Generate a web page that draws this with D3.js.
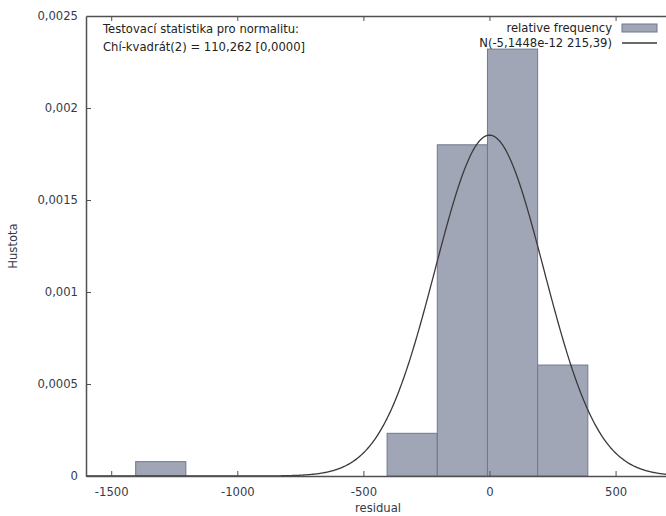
<!DOCTYPE html>
<html><head><meta charset="utf-8">
<script src="https://cdn.jsdelivr.net/npm/d3@7"></script>
<style>body{margin:0;background:#fff}svg{display:block}text{font-family:"DejaVu Sans",Verdana,sans-serif}</style>
</head><body><svg id="c" width="666" height="516"></svg>
<script>
// Data
const binStarts = [-1403, -406, -207, -8, 191];
const binEnds   = [-1204, -207, -8, 191, 390];
const density   = [0.000078, 0.000232, 0.0018, 0.00232, 0.000603];
const normMean = -5.1448e-12, normSd = 215.39;
const xTicks = [-1500, -1000, -500, 0, 500];
const xTickLabels = ["-1500", "-1000", "-500", "0", "500"];
const yTicks = [0, 0.0005, 0.001, 0.0015, 0.002, 0.0025];
const yTickLabels = ["0", "0,0005", "0,001", "0,0015", "0,002", "0,0025"];
const legendLabels = ["relative frequency", "N(-5,1448e-12 215,39)"];
const statLines = ["Testovací statistika pro normalitu:", "Chí-kvadrát(2) = 110,262 [0,0000]"];

const svg = d3.select("#c");
const L = 86, R = 666, T = 16, B = 476;
const x = d3.scaleLinear().domain([-1600, 700]).range([L, R]);
const y = d3.scaleLinear().domain([0, 0.0025]).range([B, T]);
const axisCol = "#505050", labCol = "#333a4a";
const fs = "11.6px";

// bars
svg.append("g").selectAll("rect").data(density).join("rect")
  .attr("x", (d,i) => x(binStarts[i]))
  .attr("width", (d,i) => x(binEnds[i]) - x(binStarts[i]))
  .attr("y", d => y(d)).attr("height", d => B - y(d))
  .attr("fill", "#a0a6b5").attr("stroke", "#6f7891").attr("stroke-width", 1);

// normal curve
const xs = d3.range(-1600, 701, 4);
const pdf = v => Math.exp(-0.5 * ((v - normMean) / normSd) ** 2) / (normSd * Math.sqrt(2 * Math.PI));
svg.append("path").datum(xs)
  .attr("d", d3.line().x(d => x(d)).y(d => y(pdf(d))))
  .attr("fill", "none").attr("stroke", "#3a3a3a").attr("stroke-width", 1.3);

// axes
const gBottom = svg.append("g").attr("transform", `translate(0,${B})`)
  .call(d3.axisBottom(x).tickValues(xTicks).tickSizeInner(-5).tickSizeOuter(0).tickPadding(12)
    .tickFormat((d,i) => xTickLabels[i]));
const gTop = svg.append("g").attr("transform", `translate(0,${T})`)
  .call(d3.axisTop(x).tickValues(xTicks).tickSizeInner(-5).tickSizeOuter(0).tickFormat(""));
const gLeft = svg.append("g").attr("transform", `translate(${L},0)`)
  .call(d3.axisLeft(y).tickValues(yTicks).tickSizeInner(-5).tickSizeOuter(0).tickPadding(8)
    .tickFormat((d,i) => yTickLabels[i]));
[gBottom, gTop, gLeft].forEach(g => {
  g.select(".domain").attr("stroke", axisCol).attr("stroke-width", 1.5);
  g.selectAll(".tick line").attr("stroke", axisCol).attr("stroke-width", 1);
  g.selectAll(".tick text").attr("fill", labCol).style("font-size", fs);
});
gLeft.selectAll(".tick").filter(d => d === 0.0025).select("line").remove();

// axis titles
svg.append("text").attr("x", 378).attr("y", 512).attr("text-anchor", "middle")
  .attr("fill", labCol).style("font-size", fs).text("residual");
svg.append("text").attr("transform", "translate(17,246) rotate(-90)").attr("text-anchor", "middle")
  .attr("fill", labCol).style("font-size", fs).text("Hustota");

// stat text
svg.append("g").selectAll("text").data(statLines).join("text")
  .attr("x", 103).attr("y", (d,i) => 33 + i * 18)
  .attr("fill", "#222").style("font-size", fs).text(d => d);

// legend
const lg = svg.append("g");
lg.selectAll("text").data(legendLabels).join("text")
  .attr("x", 612).attr("y", (d,i) => 32 + i * 15).attr("text-anchor", "end")
  .attr("fill", "#222").style("font-size", fs).text(d => d);
lg.append("rect").attr("x", 622).attr("y", 24).attr("width", 35).attr("height", 8)
  .attr("fill", "#a0a6b5").attr("stroke", "#6f7891");
lg.append("line").attr("x1", 622).attr("x2", 657).attr("y1", 43).attr("y2", 43)
  .attr("stroke", "#3a3a3a").attr("stroke-width", 1.3);
</script></body></html>
